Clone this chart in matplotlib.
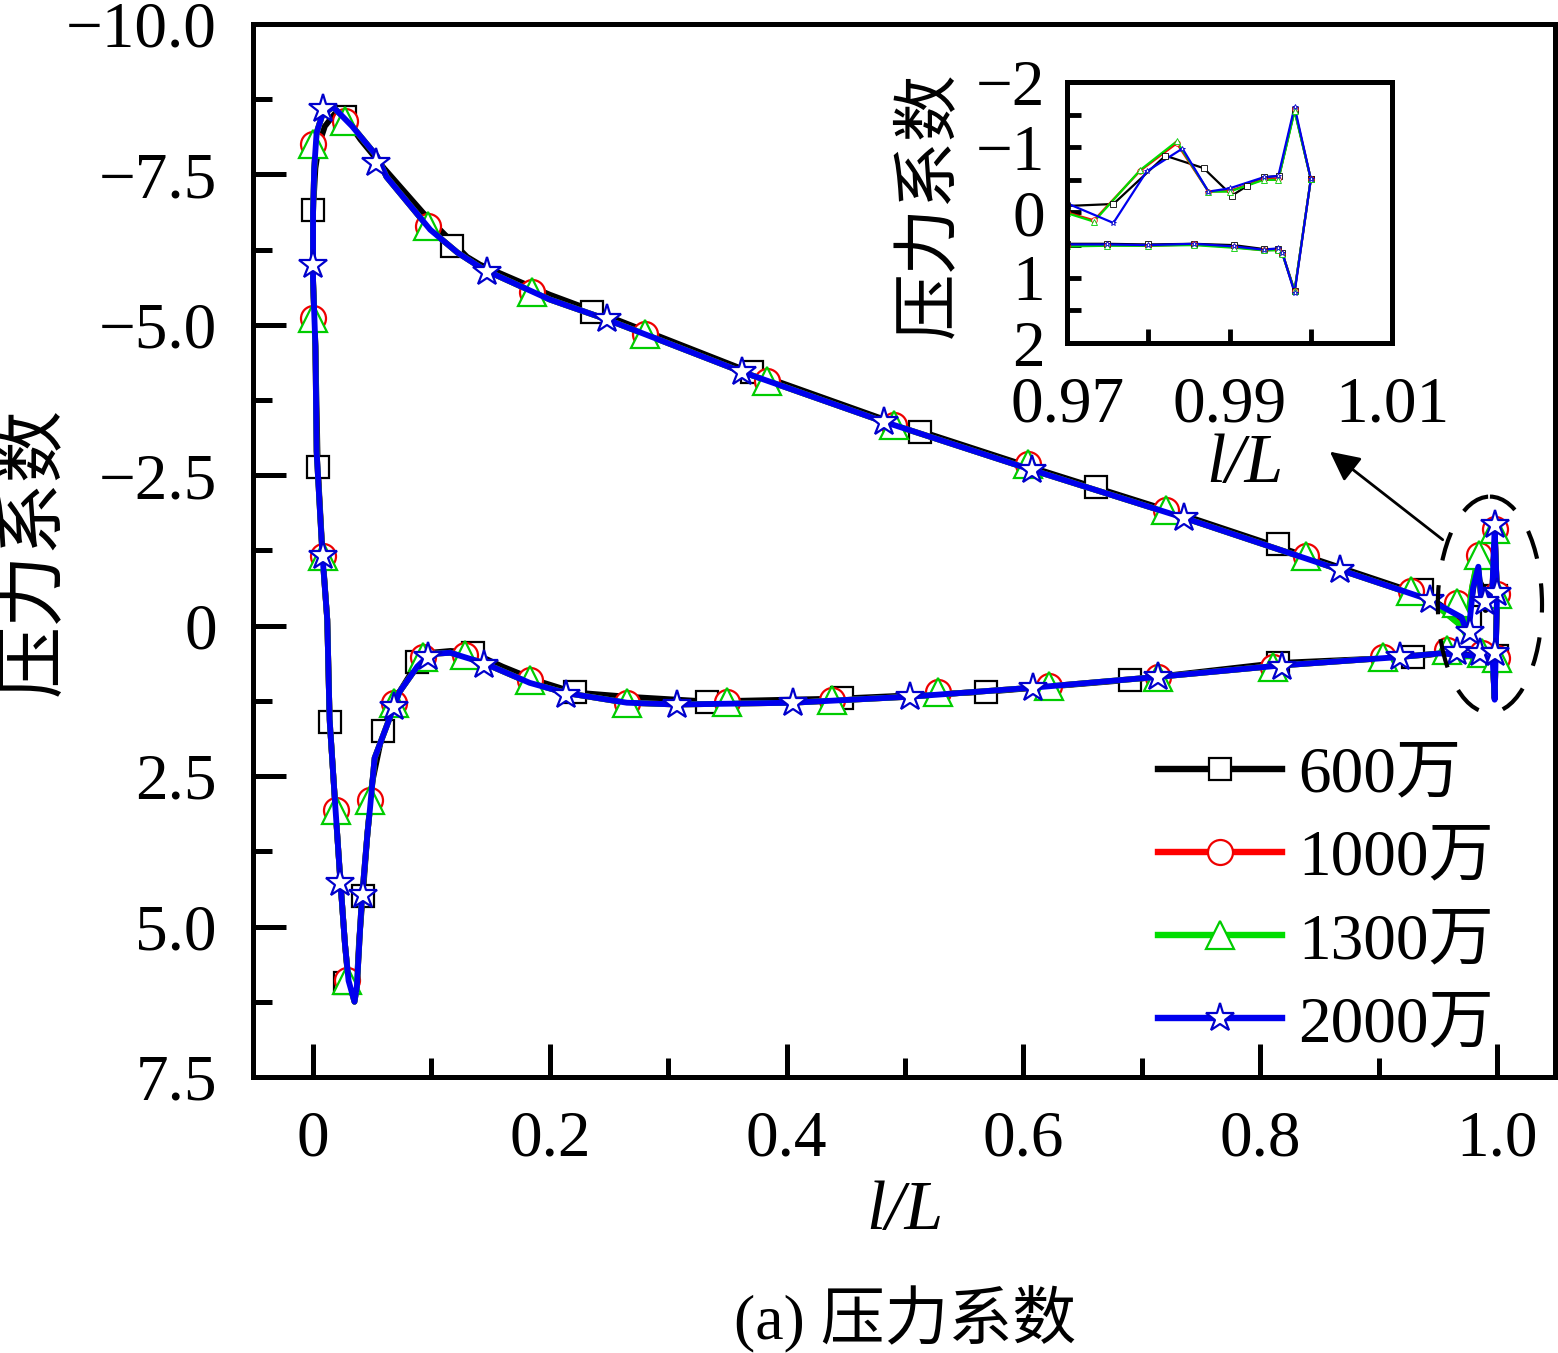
import numpy as np
import matplotlib.pyplot as plt
from matplotlib.lines import Line2D
from matplotlib.patches import Ellipse

plt.rcParams['font.family'] = ['Liberation Serif', 'Noto Sans CJK SC']
plt.rcParams['axes.unicode_minus'] = True

# ---- data ----
# shared body of the curve: upper surface from x~0.94 back to the leading edge, then lower surface
body_x = [0.943, 0.867, 0.736, 0.607, 0.482, 0.362, 0.248, 0.2, 0.144, 0.122, 0.099, 0.062, 0.054,
          0.033, 0.017, 0.008, 0.003, 0.001, 0.0, 0.0, 0.002, 0.003, 0.008, 0.012, 0.014, 0.019,
          0.023, 0.027, 0.030, 0.035, 0.037, 0.039, 0.041, 0.046, 0.048, 0.052, 0.061, 0.073,
          0.088, 0.099, 0.116, 0.144, 0.183, 0.214, 0.265, 0.307, 0.405, 0.504, 0.608, 0.714,
          0.818, 0.918, 0.952]
body_cp = [-0.43, -0.93, -1.79, -2.59, -3.39, -4.22, -5.09, -5.42, -5.92, -6.2, -6.58, -7.46, -7.8,
           -8.3, -8.62, -8.5, -8.19, -7.6, -6.86, -5.75, -4.64, -2.9, -1.15, -0.1, 1.56, 3.06,
           4.22, 5.3, 5.9, 6.25, 6.0, 5.3, 4.6, 3.44, 3.06, 2.2, 1.73, 1.1,
           0.68, 0.47, 0.45, 0.62, 0.95, 1.12, 1.28, 1.31, 1.28, 1.18, 1.03, 0.85,
           0.66, 0.52, 0.46]
body_x_600 = [0.943, 0.867, 0.736, 0.607, 0.482, 0.362, 0.248, 0.2, 0.141, 0.13, 0.093, 0.06, 0.04,
              0.027, 0.018, 0.010, 0.005, 0.002, 0.0, 0.0, 0.002, 0.004, 0.008, 0.012, 0.014, 0.019,
              0.023, 0.027, 0.030, 0.035, 0.037, 0.039, 0.042, 0.046, 0.050, 0.059, 0.073, 0.088,
              0.099, 0.116, 0.135, 0.16, 0.19, 0.221, 0.265, 0.333, 0.447, 0.568, 0.69, 0.815,
              0.929, 0.952]
body_cp_600 = [-0.47, -0.97, -1.83, -2.63, -3.43, -4.27, -5.15, -5.5, -6.0, -6.13, -6.86, -7.6, -8.08,
               -8.45, -8.5, -8.3, -8.0, -7.6, -6.91, -5.7, -4.6, -2.63, -1.2, -0.1, 1.56, 3.06,
               4.22, 5.3, 5.95, 6.2, 5.95, 5.2, 4.5, 3.44, 2.6, 1.75, 1.1, 0.62,
               0.45, 0.42, 0.45, 0.68, 0.92, 1.11, 1.18, 1.26, 1.21, 1.1, 0.9, 0.62,
               0.52, 0.46]

# trailing-edge details (upper side listed from x=1.0 back to 0.97)
te_up_x_600 = [1.0, 0.998, 0.9961, 0.9942, 0.9922, 0.9903, 0.9868, 0.9821, 0.9757, 0.97]
te_up_cp_600 = [-0.51, -1.57, -0.56, -0.54, -0.41, -0.26, -0.68, -0.87, -0.13, -0.10]
te_up_x_1000 = [1.0, 0.998, 0.996, 0.9942, 0.99, 0.9874, 0.9835, 0.979, 0.9733, 0.97]
te_up_cp_1000 = [-0.51, -1.58, -0.52, -0.51, -0.33, -0.32, -1.06, -0.64, 0.12, 0.0]
te_up_x_1300 = [1.0, 0.998, 0.996, 0.9942, 0.99, 0.9874, 0.9835, 0.979, 0.9733, 0.97]
te_up_cp_1300 = [-0.51, -1.55, -0.50, -0.50, -0.32, -0.32, -1.09, -0.65, 0.14, 0.01]
te_up_x_2000 = [1.0, 0.998, 0.996, 0.9942, 0.99, 0.9874, 0.9842, 0.9798, 0.9757, 0.97]
te_up_cp_2000 = [-0.51, -1.62, -0.56, -0.54, -0.37, -0.32, -0.98, -0.63, 0.16, -0.14]

# lower side from 0.97 to the trailing edge
te_lo_x = [0.97, 0.9749, 0.98, 0.9856, 0.9905, 0.9942, 0.996, 0.9965, 0.998, 1.0]
te_lo_cp_600 = [0.48, 0.48, 0.49, 0.48, 0.50, 0.56, 0.56, 0.62, 1.20, -0.51]
te_lo_cp_1000 = [0.51, 0.50, 0.51, 0.49, 0.53, 0.58, 0.57, 0.63, 1.21, -0.51]
te_lo_cp_1300 = [0.52, 0.51, 0.51, 0.50, 0.54, 0.58, 0.58, 0.64, 1.20, -0.51]
te_lo_cp_2000 = [0.49, 0.49, 0.50, 0.48, 0.52, 0.57, 0.55, 0.62, 1.23, -0.51]

# marker positions
mk_x_600 = [0.999, 0.977, 0.937, 0.815, 0.661, 0.513, 0.371, 0.236, 0.117, 0.027, 0.0, 0.004, 0.014,
            0.027, 0.042, 0.059, 0.088, 0.135, 0.221, 0.333, 0.447, 0.568, 0.69, 0.815, 0.929, 1.0]
mk_cp_600 = [-0.5, -0.15, -0.6, -1.35, -2.31, -3.22, -4.22, -5.22, -6.31, -8.46, -6.91, -2.63, 1.6,
             5.93, 4.5, 1.75, 0.61, 0.45, 1.11, 1.26, 1.21, 1.1, 0.9, 0.62, 0.52, 0.5]
mk_x_1000 = [0.998, 0.985, 0.966, 0.927, 0.839, 0.72, 0.604, 0.491, 0.383, 0.28, 0.185, 0.097, 0.027,
             0.0, 0.0, 0.008, 0.019, 0.029, 0.048, 0.068, 0.093, 0.128, 0.183, 0.265, 0.35, 0.438,
             0.528, 0.622, 0.714, 0.811, 0.904, 0.958, 0.987, 1.0, 1.0]
mk_cp_1000 = [-1.6, -1.18, -0.38, -0.57, -1.15, -1.93, -2.68, -3.34, -4.07, -4.84, -5.55, -6.65, -8.38,
              -8.0, -5.12, -1.15, 3.06, 5.88, 2.89, 1.28, 0.52, 0.48, 0.9, 1.28, 1.26, 1.23,
              1.11, 1.01, 0.85, 0.68, 0.52, 0.4, 0.45, -0.52, 0.53]
mk_x_1300 = mk_x_1000
mk_cp_1300 = mk_cp_1000
mk_x_2000 = [0.998, 1.0, 0.99, 0.943, 0.867, 0.736, 0.607, 0.482, 0.362, 0.248, 0.147, 0.053, 0.008,
             0.0, 0.008, 0.023, 0.042, 0.068, 0.097, 0.144, 0.214, 0.307, 0.405, 0.504, 0.608,
             0.714, 0.818, 0.918, 0.966, 0.977, 0.986, 0.998]
mk_cp_2000 = [-1.68, -0.55, -0.4, -0.43, -0.93, -1.79, -2.59, -3.39, -4.22, -5.09, -5.88, -7.69, -8.58,
              -6.0, -1.15, 4.27, 4.47, 1.35, 0.52, 0.65, 1.15, 1.31, 1.28, 1.18, 1.03,
              0.85, 0.68, 0.52, 0.43, 0.1, 0.45, 0.45]

labels = ['600万', '1000万', '1300万', '2000万']
colors = ['black', '#ff0000', '#00dd00', '#0000ee']
edge_colors = ['black', '#ee0000', '#00cc00', '#0000cc']
markers = ['s', 'o', '^', '*']
msizes = [15.5, 18, 20, 21]

series = [
    (te_up_x_600, te_up_cp_600, body_x_600, body_cp_600, te_lo_cp_600, mk_x_600, mk_cp_600),
    (te_up_x_1000, te_up_cp_1000, body_x, body_cp, te_lo_cp_1000, mk_x_1000, mk_cp_1000),
    (te_up_x_1300, te_up_cp_1300, body_x, body_cp, te_lo_cp_1300, mk_x_1300, mk_cp_1300),
    (te_up_x_2000, te_up_cp_2000, body_x, body_cp, te_lo_cp_2000, mk_x_2000, mk_cp_2000),
]

fig = plt.figure(figsize=(15.58, 13.53), dpi=100)
ax = fig.add_axes([0.1624, 0.204, 0.8357, 0.7783])

lines_xy = []
for (tux, tuc, bx, bc, tlc, mx, mc), c, ec, m, ms in zip(series, colors, edge_colors, markers, msizes):
    lx = list(tux) + list(bx) + list(te_lo_x)
    lc = list(tuc) + list(bc) + list(tlc)
    lines_xy.append((lx, lc))
    ax.plot(lx, lc, color=c, lw=4.2, solid_capstyle='round')
    ax.plot(mx, mc, ls='none', marker=m, ms=ms, mfc='white', mec=ec, mew=1.6)

ax.set_xlim(-0.0507, 1.049)
ax.set_ylim(7.5, -10)
ax.set_xticks([0, 0.2, 0.4, 0.6, 0.8, 1.0])
ax.set_xticklabels(['0', '0.2', '0.4', '0.6', '0.8', '1.0'])
ax.set_xticks([0.1, 0.3, 0.5, 0.7, 0.9], minor=True)
ax.set_yticks([-10, -7.5, -5, -2.5, 0, 2.5, 5, 7.5])
ax.set_yticklabels(['\u221210.0', '\u22127.5', '\u22125.0', '\u22122.5', '0', '2.5', '5.0', '7.5'])
ax.set_yticks([-8.75, -6.25, -3.75, -1.25, 1.25, 3.75, 6.25], minor=True)
ax.tick_params(which='major', direction='in', length=24, width=3.6, labelsize=47)
ax.tick_params(which='minor', direction='in', length=14, width=3.6)
ax.tick_params(axis='y', which='major', pad=26)
ax.tick_params(axis='x', which='major', pad=24)
for s in ax.spines.values():
    s.set_linewidth(3.6)

ax.add_patch(Ellipse((0.994, -0.35), width=0.088, height=3.59, fill=False, ec='black',
                     lw=3, ls=(0, (7, 6)), zorder=5))
ax.annotate('', xy=(0.857, -2.92), xytext=(0.956, -1.40),
            arrowprops=dict(arrowstyle='-|>', color='black', lw=2, mutation_scale=45))

handles = [Line2D([0], [0], color=c, lw=4.6, marker=m, ms=ms, mfc='white', mec=ec, mew=1.6)
           for c, ec, m, ms in zip(colors, edge_colors, markers, msizes)]
ax.legend(handles, labels, loc='upper left', bbox_to_anchor=(1158 / 1558, 1 - 746 / 1353),
          bbox_transform=fig.transFigure, frameon=False, fontsize=47, handlelength=1.9,
          handletextpad=0.25, labelspacing=0.36, borderpad=0, borderaxespad=0)

fig.text(905 / 1558, 1 - 1212 / 1353, 'l/L', fontsize=50, style='italic', ha='center', va='center')
fig.text(905 / 1558, 1 - 1320 / 1353, '(a) 压力系数', fontsize=46, ha='center', va='center')
fig.text(35 / 1558, 1 - 552 / 1353, '压力系数', fontsize=52, rotation=90, ha='center', va='center')

# inset zoomed on the trailing edge
ins = fig.add_axes([0.6849, 0.7465, 0.2086, 0.1929])
for (lx, lc), c in zip(lines_xy, colors):
    ins.plot(lx, lc, color=c, lw=1.6)
for (tux, tuc, bx, bc, tlc, mx, mc), c, ec, m in zip(series, colors, edge_colors, markers):
    ins.plot(list(tux) + list(te_lo_x), list(tuc) + list(tlc), ls='none', marker=m, ms=4,
             mfc='white', mec=ec, mew=0.6)
ins.set_xlim(0.97, 1.01)
ins.set_ylim(2, -2)
ins.set_xticks([0.97, 0.99, 1.01])
ins.set_xticklabels(['0.97', '0.99', '1.01'])
ins.set_xticks([0.98, 1.0], minor=True)
ins.set_yticks([-2, -1, 0, 1, 2])
ins.set_yticklabels(['\u22122', '\u22121', '0', '1', '2'])
ins.set_yticks([-1.5, -0.5, 0.5, 1.5], minor=True)
ins.tick_params(which='both', direction='in', length=10, width=3.5, labelsize=47)
ins.tick_params(axis='y', which='major', pad=16)
ins.tick_params(axis='x', which='major', pad=24)
for s in ins.spines.values():
    s.set_linewidth(3.6)
fig.text(1245 / 1558, 1 - 465 / 1353, 'l/L', fontsize=50, style='italic', ha='center', va='center')
fig.text(930 / 1558, 1 - 205 / 1353, '压力系数', fontsize=48, rotation=90, ha='center', va='center')

fig.savefig('out.png', dpi=100)
